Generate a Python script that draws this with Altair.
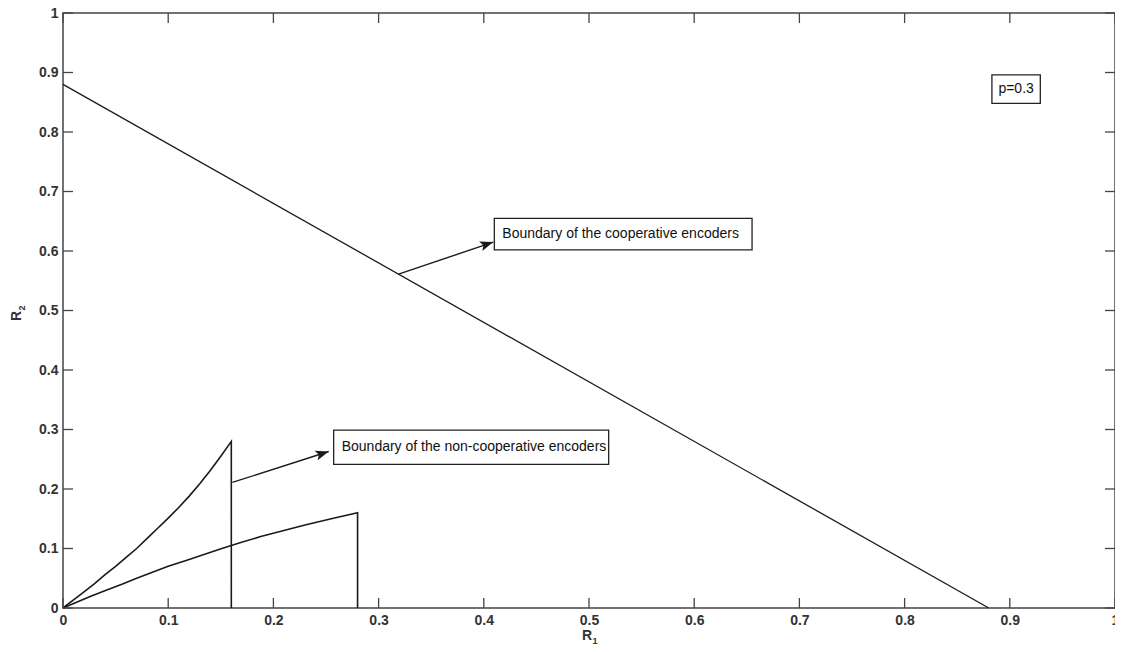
import math
import altair as alt
import pandas as pd

# ---- data ----
coop_r1 = [0.0, 0.88]
coop_r2 = [0.88, 0.0]

upper_r1 = [0.0, 0.01, 0.02, 0.03, 0.04, 0.05, 0.06, 0.07, 0.08, 0.09, 0.10,
            0.11, 0.12, 0.13, 0.14, 0.15, 0.16, 0.16]
upper_r2 = [0.0, 0.0135, 0.027, 0.041, 0.056, 0.070, 0.085, 0.100, 0.117, 0.134, 0.151,
            0.169, 0.188, 0.209, 0.231, 0.255, 0.28, 0.0]
lower_r1 = [0.0, 0.0135, 0.027, 0.041, 0.056, 0.070, 0.085, 0.100, 0.117, 0.134, 0.151,
            0.169, 0.188, 0.209, 0.231, 0.255, 0.28, 0.28]
lower_r2 = [0.0, 0.01, 0.02, 0.03, 0.04, 0.05, 0.06, 0.07, 0.08, 0.09, 0.10,
            0.11, 0.12, 0.13, 0.14, 0.15, 0.16, 0.0]

tick_values = [0.0, 0.1, 0.2, 0.3, 0.4, 0.5, 0.6, 0.7, 0.8, 0.9, 1.0]

box_labels = ["Boundary of the cooperative encoders",
              "Boundary of the non-cooperative encoders",
              "p=0.3"]
box_x1 = [0.410, 0.2573, 0.883]
box_x2 = [0.655, 0.5187, 0.929]
box_y1 = [0.655, 0.299, 0.896]
box_y2 = [0.602, 0.2415, 0.848]

arrow_x1 = [0.319, 0.161]
arrow_y1 = [0.561, 0.211]
arrow_x2 = [0.409, 0.2526]
arrow_y2 = [0.615, 0.263]

x_title = ["R", "1"]
y_title = ["R", "2"]

# ---- layout ----
W, H = 1052, 595
FONT = "Liberation Sans"
LINE = "#1a1a1a"
AX = "#444444"
LAB = "#333333"

xs = alt.Scale(domain=[0, 1], nice=False, zero=False)
ys = alt.Scale(domain=[0, 1], nice=False, zero=False)

x_axis = alt.Axis(values=tick_values, format="~g", ticks=False, domain=False, grid=False,
                  labelFont=FONT, labelFontSize=14, labelFontWeight="bold", labelColor=LAB,
                  labelPadding=5, labelFlush=False, labelOverlap=False, title=None)
y_axis = alt.Axis(values=tick_values, format="~g", ticks=False, domain=False, grid=False,
                  labelFont=FONT, labelFontSize=14, labelFontWeight="bold", labelColor=LAB,
                  labelPadding=5, labelFlush=False, labelOverlap=False, title=None)

coop_df = pd.DataFrame({"r1": coop_r1, "r2": coop_r2, "o": range(len(coop_r1))})
nc_df = pd.concat([
    pd.DataFrame({"r1": upper_r1, "r2": upper_r2, "s": "upper", "o": range(len(upper_r1))}),
    pd.DataFrame({"r1": lower_r1, "r2": lower_r2, "s": "lower", "o": range(len(lower_r1))}),
])

coop = alt.Chart(coop_df).mark_line(color=LINE, strokeWidth=1.3).encode(
    x=alt.X("r1:Q", scale=xs, axis=x_axis),
    y=alt.Y("r2:Q", scale=ys, axis=y_axis),
    order="o:Q",
)
noncoop = alt.Chart(nc_df).mark_line(color=LINE, strokeWidth=1.6).encode(
    x=alt.X("r1:Q", scale=xs),
    y=alt.Y("r2:Q", scale=ys),
    detail="s:N",
    order="o:Q",
)

tick_df = pd.DataFrame({"v": tick_values})
tk = 10
ticks_bottom = alt.Chart(tick_df).mark_rule(color=AX, strokeWidth=1.3).encode(
    x=alt.X("v:Q", scale=xs), y=alt.value(H), y2=alt.value(H - tk))
ticks_top = alt.Chart(tick_df).mark_rule(color=AX, strokeWidth=1.3).encode(
    x=alt.X("v:Q", scale=xs), y=alt.value(0), y2=alt.value(tk))
ticks_left = alt.Chart(tick_df).mark_rule(color=AX, strokeWidth=1.3).encode(
    y=alt.Y("v:Q", scale=ys), x=alt.value(0), x2=alt.value(tk))
ticks_right = alt.Chart(tick_df).mark_rule(color=AX, strokeWidth=1.3).encode(
    y=alt.Y("v:Q", scale=ys), x=alt.value(W), x2=alt.value(W - tk))

box_df = pd.DataFrame({"label": box_labels, "x1": box_x1, "x2": box_x2,
                       "y1": box_y1, "y2": box_y2})
box_df["xm"] = (box_df["x1"] + box_df["x2"]) / 2
box_df["ym"] = (box_df["y1"] + box_df["y2"]) / 2

boxes = alt.Chart(box_df).mark_rect(fill="white", stroke="#222222", strokeWidth=1.3).encode(
    x=alt.X("x1:Q", scale=xs), x2="x2:Q", y=alt.Y("y1:Q", scale=ys), y2="y2:Q")
texts_left = alt.Chart(box_df.iloc[:2]).mark_text(
    align="left", baseline="middle", dx=8, font=FONT, fontSize=14, color="#111111").encode(
    x=alt.X("x1:Q", scale=xs), y=alt.Y("ym:Q", scale=ys), text="label:N")
texts_center = alt.Chart(box_df.iloc[2:]).mark_text(
    align="center", baseline="middle", font=FONT, fontSize=14, color="#111111").encode(
    x=alt.X("xm:Q", scale=xs), y=alt.Y("ym:Q", scale=ys), text="label:N")

arr_df = pd.DataFrame({"x1": arrow_x1, "y1": arrow_y1, "x2": arrow_x2, "y2": arrow_y2})
arr_df["ang"] = [
    (math.degrees(math.atan2(-(b - a) * H, (d - c) * W)) + 360) % 360
    for a, b, c, d in zip(arr_df["y1"], arr_df["y2"], arr_df["x1"], arr_df["x2"])
]
arrow_lines = alt.Chart(arr_df).mark_rule(color=LINE, strokeWidth=1.4).encode(
    x=alt.X("x1:Q", scale=xs), y=alt.Y("y1:Q", scale=ys), x2="x2:Q", y2="y2:Q")
arrow_heads = alt.Chart(arr_df).mark_point(
    shape="M0,0 L-1,-0.38 L-0.78,0 L-1,0.38 Z", filled=True, color=LINE,
    opacity=1, size=700).encode(
    x=alt.X("x2:Q", scale=xs), y=alt.Y("y2:Q", scale=ys),
    angle=alt.Angle("ang:Q", scale=None))

# axis titles with a real subscript (main letter + smaller, offset digit)
def title_part(txt, x, y, size, angle=0):
    return alt.Chart(pd.DataFrame({"t": [txt]})).mark_text(
        font=FONT, fontSize=size, fontWeight="bold", color=LAB, angle=angle,
        align="center", baseline="middle").encode(
        text="t:N", x=alt.value(x), y=alt.value(y))

xt_main = title_part(x_title[0], W / 2 - 2, 623, 14)
xt_sub = title_part(x_title[1], W / 2 + 6, 628, 9)
yt_main = title_part(y_title[0], -46, 303, 14, 270)
yt_sub = title_part(y_title[1], -41, 295, 9, 270)

chart = alt.layer(
    coop, noncoop, ticks_bottom, ticks_top, ticks_left, ticks_right,
    arrow_lines, arrow_heads, boxes, texts_left, texts_center,
    xt_main, xt_sub, yt_main, yt_sub,
).properties(
    width=W, height=H,
    autosize=alt.AutoSizeParams(type="none"),
    padding={"left": 55, "top": 5, "right": 0, "bottom": 44},
    background="white",
).configure_view(stroke=AX, strokeWidth=1.5)

chart.save("out.html", embed_options={"renderer": "svg", "actions": False})
